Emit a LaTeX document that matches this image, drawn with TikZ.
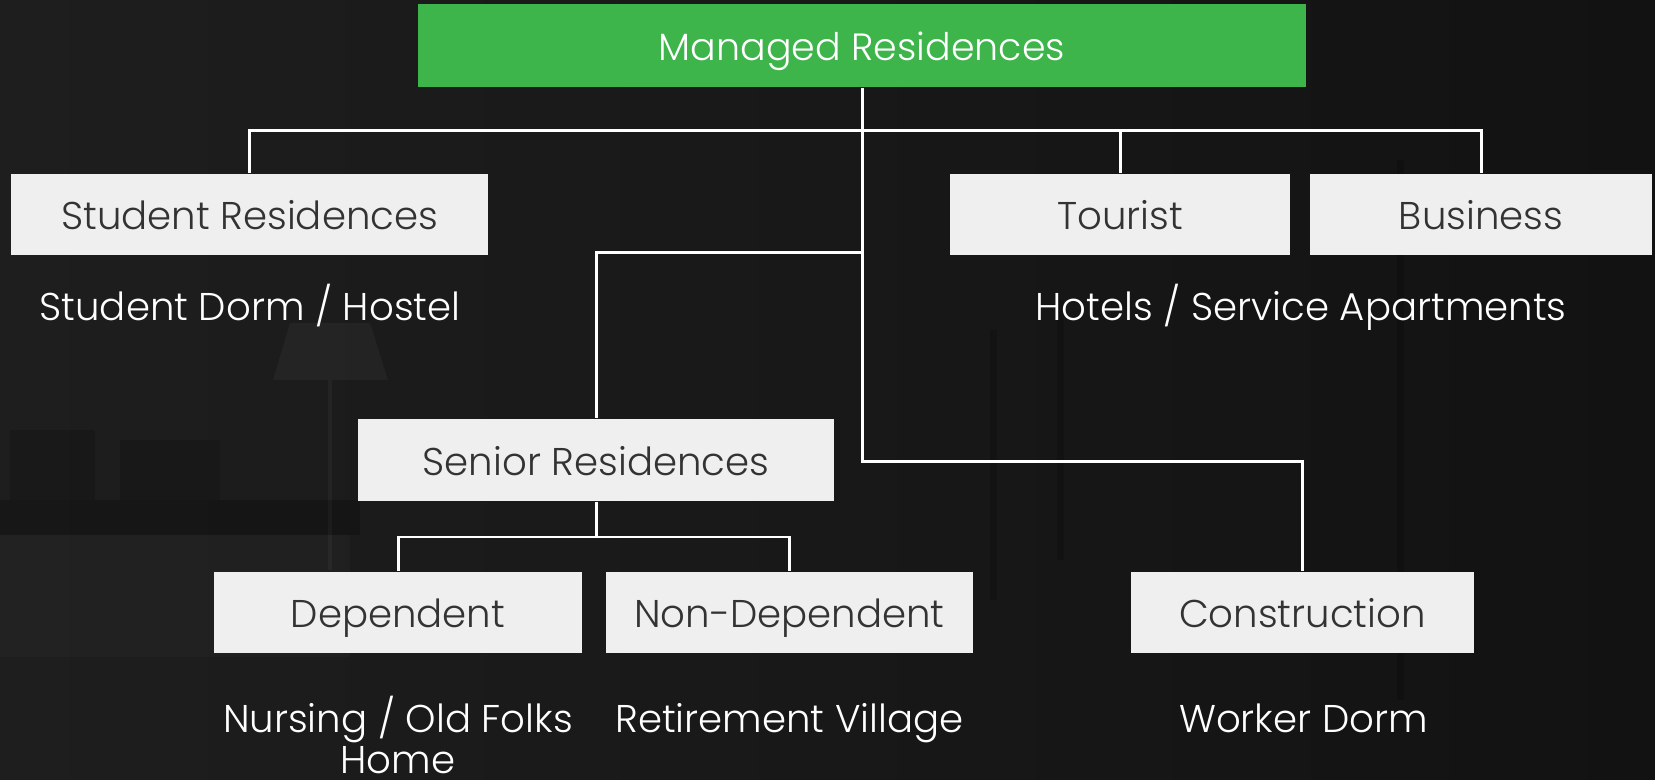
\documentclass[tikz,border=0pt]{standalone}
\usepackage{fontspec}
\IfFontExistsTF{Poppins Light}{\setmainfont{Poppins Light}}{\setmainfont{Poppins}}
\definecolor{bgA}{HTML}{1E1E1E}
\definecolor{bgB}{HTML}{121212}
\definecolor{boxfill}{HTML}{EFEFEF}
\definecolor{boxtext}{HTML}{333333}
\definecolor{topgreen}{HTML}{3DB54B}
\tikzset{
  conn/.style={draw=white, line width=0.85pt},
  graybox/.style={fill=boxfill, text=boxtext, minimum height=0.81cm, inner sep=0pt,
    text height=0.86em, text depth=0pt, font=\fontsize{11}{13}\selectfont},
  greenbox/.style={fill=topgreen, text=white, minimum height=0.83cm, inner sep=0pt,
    text height=0.86em, text depth=0pt, font=\fontsize{10.8}{13}\selectfont},
  caption/.style={text=white, align=center, inner sep=0pt, font=\fontsize{11}{11.8}\selectfont},
  frame/.style={draw=black, line width=2pt, opacity=0.16},
}
\begin{document}
\begin{tikzpicture}[x=0.01cm, y=-0.01cm]
\useasboundingbox (0,0) rectangle (1655,780);
\shade[left color=bgA, right color=bgB] (0,0) rectangle (1655,780);
% subtle backdrop scene
\fill[white, opacity=0.035] (290,323) -- (370,323) -- (388,380) -- (273,380) -- cycle;
\draw[white, opacity=0.04, line width=1pt] (330,380) -- (330,570);
\fill[black, opacity=0.22] (0,500) rectangle (360,535);
\fill[white, opacity=0.018] (0,535) rectangle (350,657);
\fill[black, opacity=0.14] (10,430) rectangle (95,500);
\fill[black, opacity=0.14] (120,440) rectangle (220,500);
\draw[frame] (993,330) -- (993,600);
\draw[frame] (1060,300) -- (1060,560);
\draw[frame] (1400,160) -- (1400,700);
% nodes
\node[greenbox, minimum width=8.88cm] (top) at (862,45.5) {Managed Residences};
\node[graybox, minimum width=4.76cm] (stud) at (249.6,214.7) {Student Residences};
\node[graybox, minimum width=3.40cm] (tour) at (1120,214.7) {Tourist};
\node[graybox, minimum width=3.42cm] (biz) at (1481,214.7) {Business};
\node[graybox, minimum width=4.76cm, minimum height=0.82cm] (sen) at (596,460) {Senior Residences};
\node[graybox, minimum width=3.676cm] (dep) at (398,612.5) {Dependent};
\node[graybox, minimum width=3.67cm] (nondep) at (789.5,612.5) {Non-Dependent};
\node[graybox, minimum width=3.42cm] (cons) at (1302.5,612.5) {Construction};
% captions
\node[caption, anchor=base] (capstud) at (250,321) {Student Dorm / Hostel};
\node[caption, anchor=base] (caphot) at (1301,321) {Hotels / Service Apartments};
\node[caption, anchor=north] (capdep) at (398,695) {Nursing / Old Folks\\Home};
\node[caption, anchor=base] (capnon) at (789.5,732) {Retirement Village};
\node[caption, anchor=base] (capcons) at (1303.5,732) {Worker Dorm};
% junctions
\coordinate (jA) at (862,131);
\coordinate (jB) at (862,253);
\coordinate (jC) at (862,462);
\coordinate (jD) at (596,537);
% connectors
\draw[conn] (top.south) -- (jA);
\draw[conn] (stud.north) |- (jA) -| (biz.north);
\draw[conn] (tour.north) -- (tour.north |- jA);
\draw[conn] (jA) -- (jC) -| (cons.north);
\draw[conn] (jB) -| (sen.north);
\draw[conn] (sen.south) -- (jD);
\draw[conn] (dep.north) |- (jD) -| (nondep.north);
\end{tikzpicture}
\end{document}
